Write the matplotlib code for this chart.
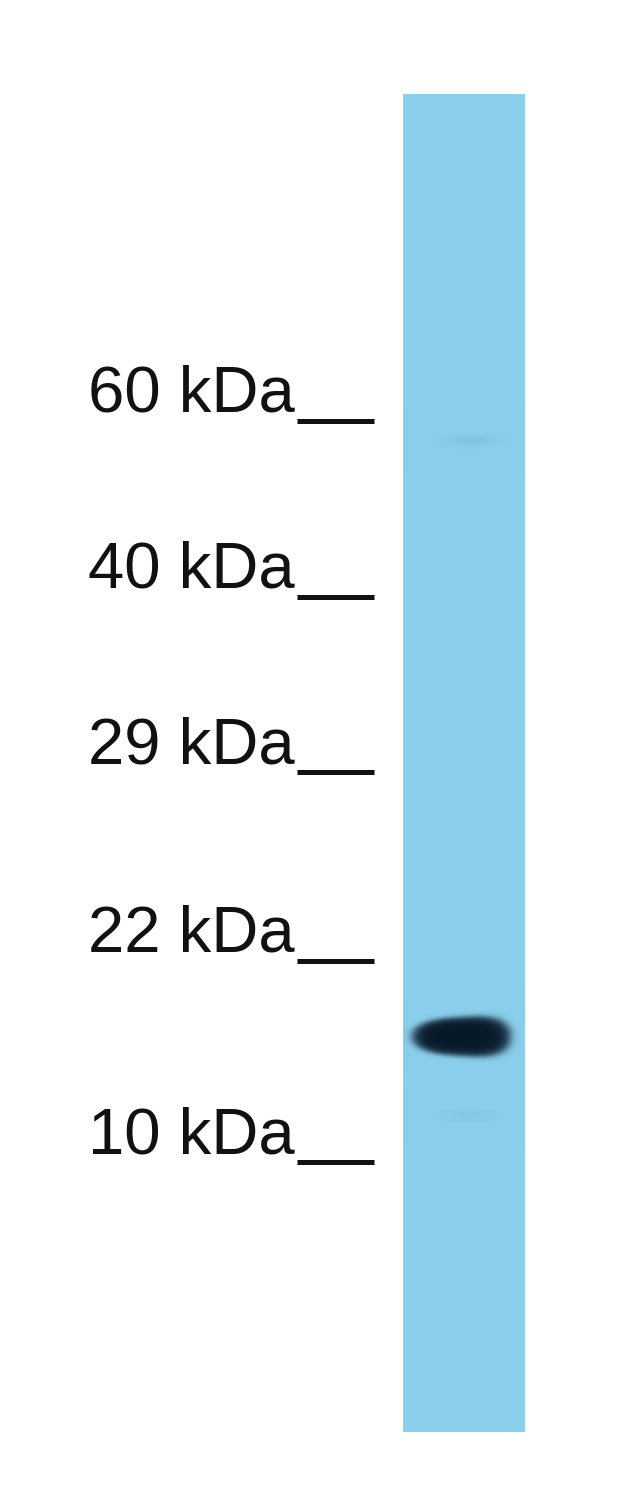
import numpy as np
import matplotlib.pyplot as plt

# --- Marker ladder (kDa) and their positions on the blot (pixels from top) ---
marker_kda = [60, 40, 29, 22, 10]
marker_pos = [421, 597, 772, 961, 1162]

# --- Lane extent (pixels) ---
lane_left, lane_right = 403, 525
lane_top, lane_bottom = 94, 1432

# --- Detected band: centre position, half width, half height, intensity ---
band_x = [461]
band_y = [1036]
band_hw = [48]
band_hh = [19]
band_strength = [1.0]

# faint spots
faint_x = [470, 468]
faint_y = [440, 1115]
faint_strength = [0.06, 0.04]

lane_rgb = np.array([138, 207, 235]) / 255
dark_rgb = np.array([6, 24, 40]) / 255

# --- Build lane image ---
W = lane_right - lane_left
H = lane_bottom - lane_top
xx, yy = np.meshgrid(np.arange(W) + lane_left, np.arange(H) + lane_top)
mask = np.zeros((H, W))
for bx, by, hw, hh, s in zip(band_x, band_y, band_hw, band_hh, band_strength):
    # slightly thicker toward the right side
    hh_local = hh * (0.85 + 0.3 * (xx - (bx - hw)) / (2 * hw))
    d = np.abs((xx - bx) / hw) ** 3 + np.abs((yy - by) / hh_local) ** 2.2
    mask = np.maximum(mask, s / (1 + np.exp((d - 1) * 5)))
for fx, fy, s in zip(faint_x, faint_y, faint_strength):
    d = ((xx - fx) / 25) ** 2 + ((yy - fy) / 6) ** 2
    mask = np.maximum(mask, s * np.exp(-d))
mask = np.clip(mask, 0, 1)[..., None]
img = lane_rgb * (1 - mask) + dark_rgb * mask

fig = plt.figure(figsize=(6.4, 15.1), dpi=100)
ax = fig.add_axes([0, 0, 1, 1])
ax.set_xlim(0, 640)
ax.set_ylim(1510, 0)
ax.axis('off')

ax.imshow(img, extent=(lane_left, lane_right, lane_bottom, lane_top),
          interpolation='bilinear', aspect='auto')

# --- Marker labels ---
for kda, pos in zip(marker_kda, marker_pos):
    ax.text(295, pos - 9, f"{kda} kDa", ha='right', va='baseline',
            fontsize=47, family='Liberation Sans', color='#111111')
    ax.plot([297, 374], [pos, pos], color='#111111', lw=3.6,
            solid_capstyle='butt')

fig.savefig("out.png", dpi=100)
